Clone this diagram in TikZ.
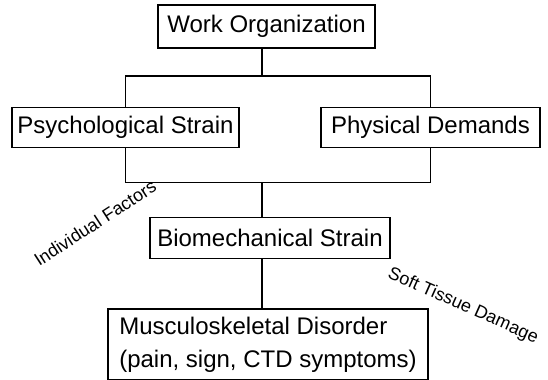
\documentclass[tikz,border=0pt]{standalone}
\usepackage{fontspec}
\setmainfont{Liberation Sans}
\usetikzlibrary{positioning}

\begin{document}
\begin{tikzpicture}[x=0.5pt,y=-0.5pt]
       \tikzset{level/.style={rectangle, draw, line width=0.8pt, inner sep=0pt,
                font=\fontsize{12}{16.5}\selectfont}}
       \tikzset{factor/.style={inner sep=0pt, font=\fontsize{9}{11}\selectfont}}
       \tikzset{link/.style={line width=0.8pt}}

       \useasboundingbox (0,0) rectangle (548,380);

       \node[level, minimum width=108.5pt, minimum height=21.5pt] (work) at (266.5,26.5) {Work Organization};
       \node[level, minimum width=113.5pt, minimum height=20pt, below = 29pt of work, xshift=-70.5pt] (psych) {Psychological Strain};
       \node[level, minimum width=109.5pt, minimum height=20pt, below = 29pt of work, xshift=82pt] (phys) {Physical Demands};
       \node[level, minimum width=120pt, minimum height=20.5pt, below = 84pt of work, xshift=1.75pt] (bio) {Biomechanical Strain};
       \node[level, minimum width=160pt, minimum height=35.5pt, align=left, inner xsep=4pt,
             below = 24.5pt of bio, xshift=-1pt] (msd) {Musculoskeletal Disorder\\(pain, sign, CTD symptoms)};

       \node[factor, rotate=33] (indiv) at (95,223) {Individual Factors};
       \node[factor, rotate=-24] (tissue) at (463,306) {Soft Tissue Damage};

       \coordinate[below = 13.5pt of work.south, xshift=-2.25pt] (split);

       \draw[link] (work.south -| split) -- (split);
       \draw[link] (psych.north) |- (split) -| (phys.north);
       \draw[link] (psych.south) -- ++(0,-17pt) coordinate (join) -| (phys.south);
       \draw[link] (join -| split) -- (bio.north -| split);
       \draw[link] (bio.south -| split) -- (msd.north -| split);
\end{tikzpicture}
\end{document}
